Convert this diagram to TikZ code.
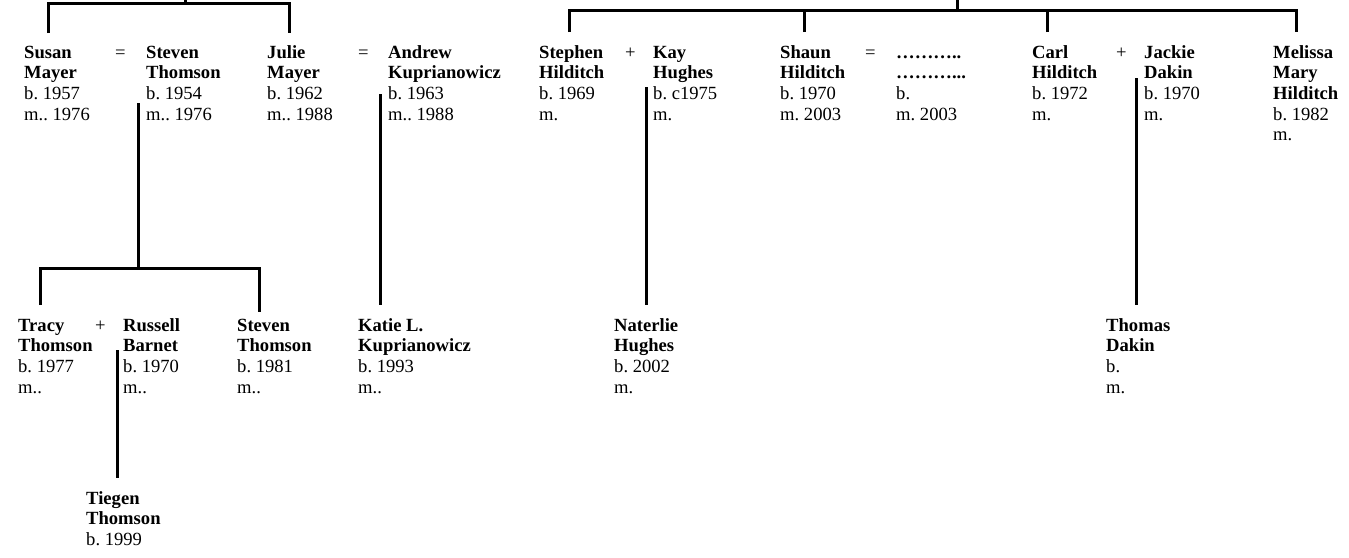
\documentclass[tikz,border=0pt]{standalone}
\usepackage{fontspec}
\setmainfont{Liberation Serif}
\frenchspacing
\begin{document}
\begin{tikzpicture}[x=1pt,y=-1pt,
  person/.style={anchor=base west, align=left, inner sep=0pt, font=\fontsize{18.6}{20.7}\selectfont\frenchspacing},
  sym/.style={anchor=base west, inner sep=0pt, font=\fontsize{18.6}{20.7}\selectfont},
  lnk/.style={line width=3pt, line join=miter, line cap=butt}]
\useasboundingbox (0,0) rectangle (1349,557);
% ---------- top row (anchor = baseline of last line) ----------
\node[person] (sm) at (24,120.1) {\textbf{Susan}\\\textbf{Mayer}\\b. 1957\\m.. 1976};
\node[sym] (eq1) at (115,58) {=};
\node[person] (st) at (146,120.1) {\textbf{Steven}\\\textbf{Thomson}\\b. 1954\\m.. 1976};
\node[person] (jm) at (267,120.1) {\textbf{Julie}\\\textbf{Mayer}\\b. 1962\\m.. 1988};
\node[sym] (eq2) at (358,58) {=};
\node[person] (ak) at (388,120.1) {\textbf{Andrew}\\\textbf{Kuprianowicz}\\b. 1963\\m.. 1988};
\node[person] (shi) at (539,120.1) {\textbf{Stephen}\\\textbf{Hilditch}\\b. 1969\\m.};
\node[sym] (pl1) at (625,58) {+};
\node[person] (kh) at (653,120.1) {\textbf{Kay}\\\textbf{Hughes}\\b. c1975\\m.};
\node[person] (sha) at (780,120.1) {\textbf{Shaun}\\\textbf{Hilditch}\\b. 1970\\m. 2003};
\node[sym] (eq3) at (865,58) {=};
\node[person] (unk) at (896,120.1) {\textbf{………..}\\\textbf{………...}\\b.\\m. 2003};
\node[person] (ch) at (1032,120.1) {\textbf{Carl}\\\textbf{Hilditch}\\b. 1972\\m.};
\node[sym] (pl2) at (1116,58) {+};
\node[person] (jd) at (1144,120.1) {\textbf{Jackie}\\\textbf{Dakin}\\b. 1970\\m.};
\node[person] (mh) at (1273,140.8) {\textbf{Melissa}\\\textbf{Mary}\\\textbf{Hilditch}\\b. 1982\\m.};
% ---------- second row ----------
\node[person] (tt) at (18,393.1) {\textbf{Tracy}\\\textbf{Thomson}\\b. 1977\\m..};
\node[sym] (pl3) at (95,331) {+};
\node[person] (rb) at (123,393.1) {\textbf{Russell}\\\textbf{Barnet}\\b. 1970\\m..};
\node[person] (st2) at (237,393.1) {\textbf{Steven}\\\textbf{Thomson}\\b. 1981\\m..};
\node[person] (kk) at (358,393.1) {\textbf{Katie L.}\\\textbf{Kuprianowicz}\\b. 1993\\m..};
\node[person] (nh) at (614,393.1) {\textbf{Naterlie}\\\textbf{Hughes}\\b. 2002\\m.};
\node[person] (td) at (1106,393.1) {\textbf{Thomas}\\\textbf{Dakin}\\b.\\m.};
% ---------- third row ----------
\node[person] (tg) at (86,545.4) {\textbf{Tiegen}\\\textbf{Thomson}\\b. 1999};
% ---------- connector points ----------
\coordinate (upA) at (185,0);
\coordinate (barA) at (185,3);
\coordinate (smT) at (48,33);
\coordinate (jmT) at (289,33);
\coordinate (upB) at (957,0);
\coordinate (barB) at (957,10);
\coordinate (shiT) at (569,32);
\coordinate (shaT) at (804,32);
\coordinate (chT) at (1047,32);
\coordinate (mhT) at (1296,32);
\coordinate (cpST) at (138,103);
\coordinate (barC) at (138,268);
\coordinate (ttT) at (40,305);
\coordinate (st2T) at (259,312);
\coordinate (cpAK) at (380,94);
\coordinate (kkT) at (380,305);
\coordinate (cpKH) at (646,87);
\coordinate (nhT) at (646,305);
\coordinate (cpJD) at (1136,78);
\coordinate (tdT) at (1136,305);
\coordinate (cpRB) at (117,350);
\coordinate (tgT) at (117,478);
% ---------- connectors ----------
\draw[lnk] (upA) -- (barA);
\draw[lnk] (smT) |- (barA) -| (jmT);
\draw[lnk] (upB) -- (barB);
\draw[lnk] (shiT) |- (barB) -| (mhT);
\draw[lnk] (shaT) -- (shaT |- barB);
\draw[lnk] (chT) -- (chT |- barB);
\draw[lnk] (cpST) -- (barC);
\draw[lnk] (ttT) |- (barC) -| (st2T);
\draw[lnk] (cpAK) -- (kkT);
\draw[lnk] (cpKH) -- (nhT);
\draw[lnk] (cpJD) -- (tdT);
\draw[lnk] (cpRB) -- (tgT);
\end{tikzpicture}
\end{document}
